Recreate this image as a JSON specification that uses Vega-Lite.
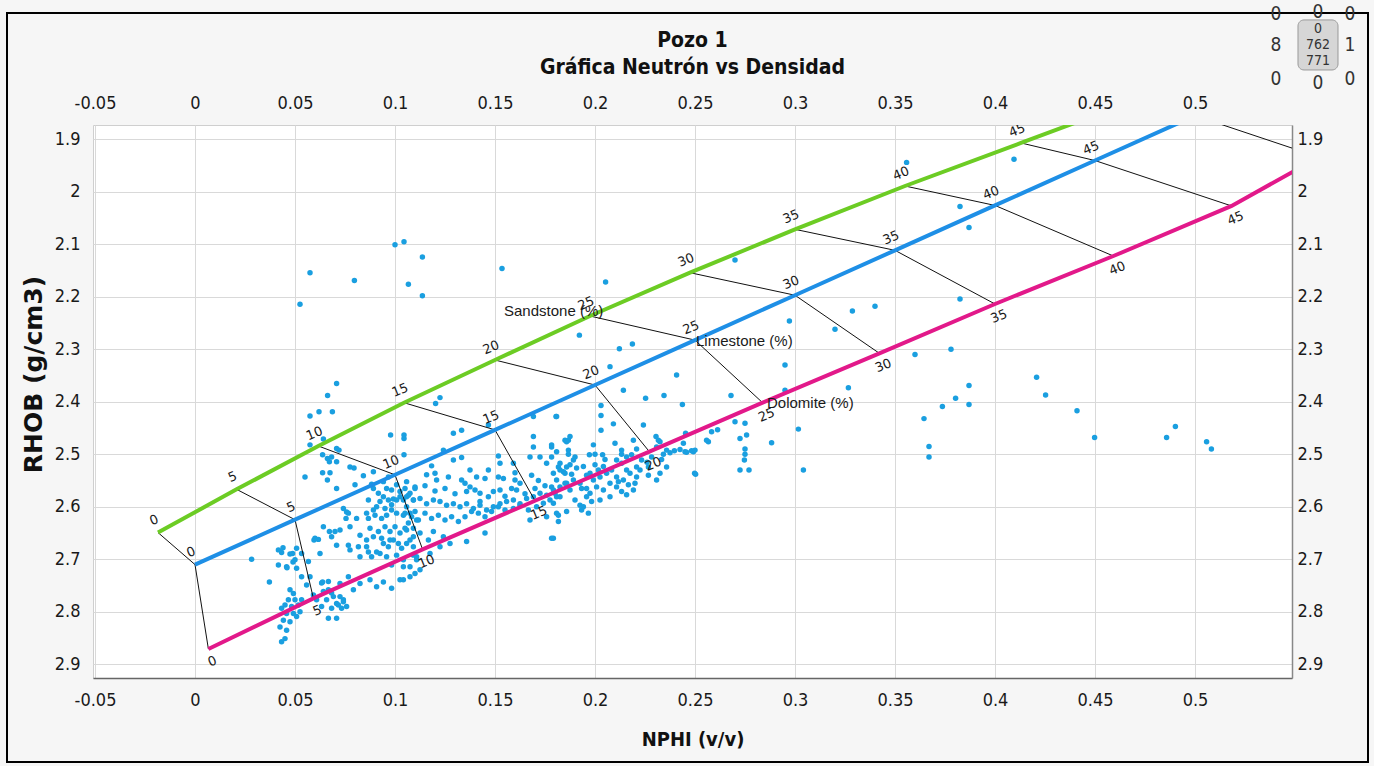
{
  "$schema": "https://vega.github.io/schema/vega-lite/v6.json",
  "width": 1199,
  "height": 553,
  "autosize": {"type": "none"},
  "padding": {"left": 93, "top": 125, "right": 82, "bottom": 88},
  "background": "#f6f6f6",
  "config": {
    "view": {"fill": "white", "stroke": "#cfcfcf", "strokeWidth": 1},
    "axis": {"labelFlush": false, "labelOverlap": false, "ticks": false}
  },
  "title": {
    "text": ["Pozo 1", "Gráfica Neutrón vs Densidad"],
    "anchor": "middle",
    "font": "Liberation Sans Narrow, DejaVu Sans Condensed, sans-serif",
    "fontSize": 21,
    "fontWeight": "bold",
    "color": "#111111",
    "lineHeight": 27,
    "offset": 0,
    "dy": 75
  },
  "datasets": {
    "frame": [{"NPHI": -0.094, "NPHI2": 0.5865, "RHOB": 1.6594, "RHOB2": 3.086}],
    "box": [{"NPHI": 0.5515, "NPHI2": 0.5715, "RHOB": 1.6727, "RHOB2": 1.768}],
    "widget": [
      {"NPHI": 0.5405, "RHOB": 1.6613, "label": "0"},
      {"NPHI": 0.5615, "RHOB": 1.6575, "label": "0"},
      {"NPHI": 0.5775, "RHOB": 1.6613, "label": "0"},
      {"NPHI": 0.5405, "RHOB": 1.7204, "label": "8"},
      {"NPHI": 0.5775, "RHOB": 1.7204, "label": "1"},
      {"NPHI": 0.5405, "RHOB": 1.7852, "label": "0"},
      {"NPHI": 0.5615, "RHOB": 1.7928, "label": "0"},
      {"NPHI": 0.5775, "RHOB": 1.7852, "label": "0"}
    ],
    "inner": [
      {"NPHI": 0.5615, "RHOB": 1.6899, "label": "0"},
      {"NPHI": 0.5615, "RHOB": 1.7204, "label": "762"},
      {"NPHI": 0.5615, "RHOB": 1.7509, "label": "771"}
    ],
    "names": [
      {"NPHI": 0.1545, "RHOB": 2.227, "name": "Sandstone (%)"},
      {"NPHI": 0.2505, "RHOB": 2.2836, "name": "Limestone (%)"},
      {"NPHI": 0.286, "RHOB": 2.4017, "name": "Dolomite (%)"}
    ],
    "lith": [
      {"lith": "Sandstone", "k": 0, "phi": 0, "NPHI": -0.0185, "RHOB": 2.649},
      {"lith": "Sandstone", "k": 0, "phi": 5, "NPHI": 0.0208, "RHOB": 2.5667},
      {"lith": "Sandstone", "k": 0, "phi": 10, "NPHI": 0.0617, "RHOB": 2.4842},
      {"lith": "Sandstone", "k": 0, "phi": 15, "NPHI": 0.1045, "RHOB": 2.4017},
      {"lith": "Sandstone", "k": 0, "phi": 20, "NPHI": 0.15, "RHOB": 2.3204},
      {"lith": "Sandstone", "k": 0, "phi": 25, "NPHI": 0.1975, "RHOB": 2.2366},
      {"lith": "Sandstone", "k": 0, "phi": 30, "NPHI": 0.2475, "RHOB": 2.1541},
      {"lith": "Sandstone", "k": 0, "phi": 35, "NPHI": 0.3, "RHOB": 2.0715},
      {"lith": "Sandstone", "k": 0, "phi": 40, "NPHI": 0.355, "RHOB": 1.989},
      {"lith": "Sandstone", "k": 0, "phi": 45, "NPHI": 0.413, "RHOB": 1.907},
      {"lith": "Sandstone", "k": 0, "phi": 50, "NPHI": 0.47, "RHOB": 1.826},
      {"lith": "Limestone", "k": 1, "phi": 0, "NPHI": 0, "RHOB": 2.71},
      {"lith": "Limestone", "k": 1, "phi": 5, "NPHI": 0.05, "RHOB": 2.6245},
      {"lith": "Limestone", "k": 1, "phi": 10, "NPHI": 0.1, "RHOB": 2.539},
      {"lith": "Limestone", "k": 1, "phi": 15, "NPHI": 0.15, "RHOB": 2.4535},
      {"lith": "Limestone", "k": 1, "phi": 20, "NPHI": 0.2, "RHOB": 2.368},
      {"lith": "Limestone", "k": 1, "phi": 25, "NPHI": 0.25, "RHOB": 2.2825},
      {"lith": "Limestone", "k": 1, "phi": 30, "NPHI": 0.3, "RHOB": 2.197},
      {"lith": "Limestone", "k": 1, "phi": 35, "NPHI": 0.35, "RHOB": 2.1115},
      {"lith": "Limestone", "k": 1, "phi": 40, "NPHI": 0.4, "RHOB": 2.026},
      {"lith": "Limestone", "k": 1, "phi": 45, "NPHI": 0.45, "RHOB": 1.9405},
      {"lith": "Limestone", "k": 1, "phi": 50, "NPHI": 0.5, "RHOB": 1.855},
      {"lith": "Dolomite", "k": 2, "phi": 0, "NPHI": 0.0067, "RHOB": 2.8709},
      {"lith": "Dolomite", "k": 2, "phi": 5, "NPHI": 0.0592, "RHOB": 2.7743},
      {"lith": "Dolomite", "k": 2, "phi": 10, "NPHI": 0.1138, "RHOB": 2.681},
      {"lith": "Dolomite", "k": 2, "phi": 15, "NPHI": 0.17, "RHOB": 2.5884},
      {"lith": "Dolomite", "k": 2, "phi": 20, "NPHI": 0.2272, "RHOB": 2.495},
      {"lith": "Dolomite", "k": 2, "phi": 25, "NPHI": 0.2838, "RHOB": 2.4017},
      {"lith": "Dolomite", "k": 2, "phi": 30, "NPHI": 0.3422, "RHOB": 2.3076},
      {"lith": "Dolomite", "k": 2, "phi": 35, "NPHI": 0.4, "RHOB": 2.2137},
      {"lith": "Dolomite", "k": 2, "phi": 40, "NPHI": 0.4592, "RHOB": 2.1223},
      {"lith": "Dolomite", "k": 2, "phi": 45, "NPHI": 0.5183, "RHOB": 2.027},
      {"lith": "Dolomite", "k": 2, "phi": 50, "NPHI": 0.562, "RHOB": 1.934}
    ],
    "pts": [
      {"NPHI":0.0525,"RHOB":2.214},{"NPHI":0.0575,"RHOB":2.154},{"NPHI":0.0797,"RHOB":2.169},{"NPHI":0.1,"RHOB":2.101},{"NPHI":0.1045,"RHOB":2.095},{"NPHI":0.1137,"RHOB":2.124},{"NPHI":0.1067,"RHOB":2.176},{"NPHI":0.1137,"RHOB":2.198},
      {"NPHI":0.1535,"RHOB":2.146},{"NPHI":0.2053,"RHOB":2.172},{"NPHI":0.27,"RHOB":2.13},{"NPHI":0.1922,"RHOB":2.273},{"NPHI":0.2122,"RHOB":2.299},{"NPHI":0.2187,"RHOB":2.29},{"NPHI":0.2075,"RHOB":2.333},
      {"NPHI":0.0708,"RHOB":2.365},{"NPHI":0.0663,"RHOB":2.388},{"NPHI":0.0575,"RHOB":2.427},{"NPHI":0.062,"RHOB":2.419},{"NPHI":0.0687,"RHOB":2.419},{"NPHI":0.1203,"RHOB":2.403},{"NPHI":0.1225,"RHOB":2.392},
      {"NPHI":0.0978,"RHOB":2.463},{"NPHI":0.1045,"RHOB":2.463},{"NPHI":0.1045,"RHOB":2.47},{"NPHI":0.1045,"RHOB":2.501},{"NPHI":0.0575,"RHOB":2.482},{"NPHI":0.0642,"RHOB":2.471},
      {"NPHI":0.2408,"RHOB":2.349},{"NPHI":0.2142,"RHOB":2.378},{"NPHI":0.2253,"RHOB":2.393},{"NPHI":0.2345,"RHOB":2.388},{"NPHI":0.2437,"RHOB":2.405},{"NPHI":0.268,"RHOB":2.388},{"NPHI":0.295,"RHOB":2.33},{"NPHI":0.2972,"RHOB":2.246},{"NPHI":0.32,"RHOB":2.262},{"NPHI":0.3287,"RHOB":2.227},{"NPHI":0.34,"RHOB":2.218},{"NPHI":0.3267,"RHOB":2.373},{"NPHI":0.295,"RHOB":2.378},{"NPHI":0.3017,"RHOB":2.452},{"NPHI":0.3042,"RHOB":2.53},{"NPHI":0.2883,"RHOB":2.478},{"NPHI":0.275,"RHOB":2.441},{"NPHI":0.27,"RHOB":2.438},{"NPHI":0.2725,"RHOB":2.53},{"NPHI":0.277,"RHOB":2.53},{"NPHI":0.2747,"RHOB":2.511},{"NPHI":0.2758,"RHOB":2.463},{"NPHI":0.2725,"RHOB":2.47},{"NPHI":0.2583,"RHOB":2.457},{"NPHI":0.2567,"RHOB":2.476},{"NPHI":0.2492,"RHOB":2.495},{"NPHI":0.2503,"RHOB":2.538},{"NPHI":0.2453,"RHOB":2.46},{"NPHI":0.245,"RHOB":2.495},{"NPHI":0.2397,"RHOB":2.493},{"NPHI":0.2358,"RHOB":2.492},{"NPHI":0.2317,"RHOB":2.473},{"NPHI":0.2308,"RHOB":2.486},{"NPHI":0.2242,"RHOB":2.444},{"NPHI":0.2092,"RHOB":2.442},{"NPHI":0.203,"RHOB":2.454},{"NPHI":0.203,"RHOB":2.426},{"NPHI":0.203,"RHOB":2.407},
      {"NPHI":0.2613,"RHOB":2.453},{"NPHI":0.275,"RHOB":2.49},{"NPHI":0.275,"RHOB":2.5},{"NPHI":0.2425,"RHOB":2.491},{"NPHI":0.2483,"RHOB":2.493},
      {"NPHI":0.3558,"RHOB":1.944},{"NPHI":0.4095,"RHOB":1.938},{"NPHI":0.3825,"RHOB":2.028},{"NPHI":0.387,"RHOB":2.068},{"NPHI":0.3825,"RHOB":2.204},{"NPHI":0.378,"RHOB":2.3},{"NPHI":0.36,"RHOB":2.31},{"NPHI":0.387,"RHOB":2.369},{"NPHI":0.3803,"RHOB":2.393},{"NPHI":0.387,"RHOB":2.405},{"NPHI":0.3737,"RHOB":2.409},{"NPHI":0.3645,"RHOB":2.432},{"NPHI":0.367,"RHOB":2.485},{"NPHI":0.367,"RHOB":2.505},{"NPHI":0.4208,"RHOB":2.353},{"NPHI":0.4253,"RHOB":2.387},{"NPHI":0.441,"RHOB":2.417},{"NPHI":0.4498,"RHOB":2.468},{"NPHI":0.4858,"RHOB":2.468},{"NPHI":0.4902,"RHOB":2.447},{"NPHI":0.5058,"RHOB":2.476},{"NPHI":0.5082,"RHOB":2.49},
      {"NPHI":0.1805,"RHOB":2.428},{"NPHI":0.1875,"RHOB":2.466},{"NPHI":0.185,"RHOB":2.473},{"NPHI":0.1783,"RHOB":2.486},{"NPHI":0.1992,"RHOB":2.482},{"NPHI":0.1972,"RHOB":2.501},{"NPHI":0.2038,"RHOB":2.501},{"NPHI":0.21,"RHOB":2.479},{"NPHI":0.2133,"RHOB":2.492},{"NPHI":0.2192,"RHOB":2.473},{"NPHI":0.2305,"RHOB":2.466},{"NPHI":0.2325,"RHOB":2.476},{"NPHI":0.2375,"RHOB":2.497},{"NPHI":0.2442,"RHOB":2.479},{"NPHI":0.2458,"RHOB":2.496},{"NPHI":0.25,"RHOB":2.492},{"NPHI":0.2498,"RHOB":2.536},{"NPHI":0.2558,"RHOB":2.473},{"NPHI":0.2308,"RHOB":2.549},{"NPHI":0.2325,"RHOB":2.536},{"NPHI":0.2267,"RHOB":2.524},{"NPHI":0.2358,"RHOB":2.524},
      {"NPHI":0.1792,"RHOB":2.536},{"NPHI":0.1817,"RHOB":2.524},{"NPHI":0.1842,"RHOB":2.533},{"NPHI":0.1808,"RHOB":2.549},{"NPHI":0.1783,"RHOB":2.562},{"NPHI":0.18,"RHOB":2.574},{"NPHI":0.1825,"RHOB":2.581},{"NPHI":0.1792,"RHOB":2.593},{"NPHI":0.1808,"RHOB":2.612},{"NPHI":0.1817,"RHOB":2.628},{"NPHI":0.1792,"RHOB":2.66},
      {"NPHI":0.1875,"RHOB":2.52},{"NPHI":0.1908,"RHOB":2.526},{"NPHI":0.1942,"RHOB":2.523},{"NPHI":0.1975,"RHOB":2.536},{"NPHI":0.1892,"RHOB":2.549},{"NPHI":0.1925,"RHOB":2.555},{"NPHI":0.1958,"RHOB":2.565},{"NPHI":0.1992,"RHOB":2.549},{"NPHI":0.2025,"RHOB":2.543},{"NPHI":0.2058,"RHOB":2.536},{"NPHI":0.2042,"RHOB":2.523},{"NPHI":0.2083,"RHOB":2.53},{"NPHI":0.2108,"RHOB":2.543},{"NPHI":0.2142,"RHOB":2.549},{"NPHI":0.2175,"RHOB":2.536},{"NPHI":0.2208,"RHOB":2.543},{"NPHI":0.2075,"RHOB":2.555},{"NPHI":0.2108,"RHOB":2.562},{"NPHI":0.2042,"RHOB":2.568},{"NPHI":0.2008,"RHOB":2.562},{"NPHI":0.1975,"RHOB":2.574},{"NPHI":0.19,"RHOB":2.587},{"NPHI":0.1925,"RHOB":2.597},{"NPHI":0.1958,"RHOB":2.581},{"NPHI":0.1875,"RHOB":2.568},{"NPHI":0.185,"RHOB":2.555},
      {"NPHI":0.2108,"RHOB":2.511},{"NPHI":0.2133,"RHOB":2.517},{"NPHI":0.2158,"RHOB":2.505},{"NPHI":0.2183,"RHOB":2.501},{"NPHI":0.2208,"RHOB":2.524},{"NPHI":0.2233,"RHOB":2.511},{"NPHI":0.2167,"RHOB":2.558},{"NPHI":0.2192,"RHOB":2.568},{"NPHI":0.2158,"RHOB":2.577},{"NPHI":0.2133,"RHOB":2.571},{"NPHI":0.2075,"RHOB":2.581},{"NPHI":0.2025,"RHOB":2.587},{"NPHI":0.1983,"RHOB":2.59},{"NPHI":0.1942,"RHOB":2.6},{"NPHI":0.1967,"RHOB":2.612},{"NPHI":0.1933,"RHOB":2.606},
      {"NPHI":0.2,"RHOB":2.52},{"NPHI":0.205,"RHOB":2.51},{"NPHI":0.2158,"RHOB":2.53},{"NPHI":0.2225,"RHOB":2.53},{"NPHI":0.226,"RHOB":2.515},{"NPHI":0.2283,"RHOB":2.505},{"NPHI":0.22,"RHOB":2.555},{"NPHI":0.2117,"RHOB":2.552},{"NPHI":0.1958,"RHOB":2.54},{"NPHI":0.2017,"RHOB":2.53},{"NPHI":0.1883,"RHOB":2.538},{"NPHI":0.1933,"RHOB":2.565},{"NPHI":0.2267,"RHOB":2.54},{"NPHI":0.2333,"RHOB":2.51},{"NPHI":0.2342,"RHOB":2.5},{"NPHI":0.2208,"RHOB":2.49},{"NPHI":0.2,"RHOB":2.5},{"NPHI":0.19,"RHOB":2.505},{"NPHI":0.1867,"RHOB":2.5},{"NPHI":0.2133,"RHOB":2.5},
      {"NPHI":0.1292,"RHOB":2.46},{"NPHI":0.1333,"RHOB":2.454},{"NPHI":0.1242,"RHOB":2.492},{"NPHI":0.1292,"RHOB":2.511},{"NPHI":0.1333,"RHOB":2.506},{"NPHI":0.1183,"RHOB":2.522},{"NPHI":0.1158,"RHOB":2.539},{"NPHI":0.12,"RHOB":2.536},{"NPHI":0.1208,"RHOB":2.549},{"NPHI":0.1375,"RHOB":2.53},{"NPHI":0.1408,"RHOB":2.543},{"NPHI":0.145,"RHOB":2.546},{"NPHI":0.1333,"RHOB":2.549},{"NPHI":0.1267,"RHOB":2.543},{"NPHI":0.1517,"RHOB":2.503},{"NPHI":0.1467,"RHOB":2.444},
      {"NPHI":0.1517,"RHOB":2.543},{"NPHI":0.1542,"RHOB":2.546},{"NPHI":0.16,"RHOB":2.549},{"NPHI":0.1625,"RHOB":2.555},{"NPHI":0.1608,"RHOB":2.568},{"NPHI":0.1583,"RHOB":2.565},{"NPHI":0.1525,"RHOB":2.568},{"NPHI":0.1492,"RHOB":2.571},{"NPHI":0.1467,"RHOB":2.581},{"NPHI":0.1425,"RHOB":2.574},{"NPHI":0.14,"RHOB":2.568},{"NPHI":0.1375,"RHOB":2.562},{"NPHI":0.1358,"RHOB":2.571},
      {"NPHI":0.1058,"RHOB":2.581},{"NPHI":0.1092,"RHOB":2.587},{"NPHI":0.1125,"RHOB":2.584},{"NPHI":0.1158,"RHOB":2.594},{"NPHI":0.1192,"RHOB":2.587},{"NPHI":0.1225,"RHOB":2.59},{"NPHI":0.1258,"RHOB":2.597},{"NPHI":0.1292,"RHOB":2.594},{"NPHI":0.1325,"RHOB":2.6},{"NPHI":0.1358,"RHOB":2.594},{"NPHI":0.1392,"RHOB":2.603},{"NPHI":0.1425,"RHOB":2.597},{"NPHI":0.1458,"RHOB":2.606},{"NPHI":0.1492,"RHOB":2.6},{"NPHI":0.1525,"RHOB":2.594},{"NPHI":0.1558,"RHOB":2.59},{"NPHI":0.1592,"RHOB":2.587},{"NPHI":0.1625,"RHOB":2.594},{"NPHI":0.1658,"RHOB":2.584},{"NPHI":0.1692,"RHOB":2.581},{"NPHI":0.1725,"RHOB":2.574},{"NPHI":0.1758,"RHOB":2.578},{"NPHI":0.1792,"RHOB":2.568},{"NPHI":0.1825,"RHOB":2.562},{"NPHI":0.1858,"RHOB":2.555},
      {"NPHI":0.105,"RHOB":2.612},{"NPHI":0.1083,"RHOB":2.619},{"NPHI":0.1117,"RHOB":2.625},{"NPHI":0.115,"RHOB":2.612},{"NPHI":0.1183,"RHOB":2.622},{"NPHI":0.1217,"RHOB":2.616},{"NPHI":0.125,"RHOB":2.625},{"NPHI":0.1283,"RHOB":2.619},{"NPHI":0.1317,"RHOB":2.628},{"NPHI":0.135,"RHOB":2.619},{"NPHI":0.1383,"RHOB":2.609},{"NPHI":0.1417,"RHOB":2.612},{"NPHI":0.145,"RHOB":2.619},{"NPHI":0.1483,"RHOB":2.609},{"NPHI":0.1517,"RHOB":2.6},{"NPHI":0.155,"RHOB":2.606},{"NPHI":0.1592,"RHOB":2.603},{"NPHI":0.1625,"RHOB":2.597},{"NPHI":0.1667,"RHOB":2.606},{"NPHI":0.1708,"RHOB":2.6},{"NPHI":0.1742,"RHOB":2.593},{"NPHI":0.1775,"RHOB":2.587},{"NPHI":0.1808,"RHOB":2.581},
      {"NPHI":0.1058,"RHOB":2.644},{"NPHI":0.1092,"RHOB":2.657},{"NPHI":0.1125,"RHOB":2.65},{"NPHI":0.1167,"RHOB":2.663},{"NPHI":0.1192,"RHOB":2.647},{"NPHI":0.1242,"RHOB":2.657},{"NPHI":0.1275,"RHOB":2.67},{"NPHI":0.1358,"RHOB":2.666},{"NPHI":0.145,"RHOB":2.65},{"NPHI":0.1225,"RHOB":2.676},{"NPHI":0.1175,"RHOB":2.689},{"NPHI":0.1108,"RHOB":2.701},{"NPHI":0.1075,"RHOB":2.714},{"NPHI":0.11,"RHOB":2.727},{"NPHI":0.1042,"RHOB":2.739},{"NPHI":0.1675,"RHOB":2.625},{"NPHI":0.1758,"RHOB":2.619},{"NPHI":0.1783,"RHOB":2.66},{"NPHI":0.1817,"RHOB":2.616},{"NPHI":0.1858,"RHOB":2.609},
      {"NPHI":0.1692,"RHOB":2.428},{"NPHI":0.1692,"RHOB":2.466},{"NPHI":0.1675,"RHOB":2.505},{"NPHI":0.1725,"RHOB":2.505},{"NPHI":0.1758,"RHOB":2.517},{"NPHI":0.1783,"RHOB":2.505},{"NPHI":0.1808,"RHOB":2.495},{"NPHI":0.1783,"RHOB":2.482},{"NPHI":0.1825,"RHOB":2.53},{"NPHI":0.1867,"RHOB":2.473},{"NPHI":0.1858,"RHOB":2.524},{"NPHI":0.1808,"RHOB":2.428},
      {"NPHI":0.1525,"RHOB":2.517},{"NPHI":0.1592,"RHOB":2.517},{"NPHI":0.1467,"RHOB":2.53},{"NPHI":0.1692,"RHOB":2.486},{"NPHI":0.1858,"RHOB":2.476},{"NPHI":0.1867,"RHOB":2.492},{"NPHI":0.1892,"RHOB":2.511},{"NPHI":0.1825,"RHOB":2.517},{"NPHI":0.185,"RHOB":2.536},
      {"NPHI":0.125,"RHOB":2.565},{"NPHI":0.13,"RHOB":2.575},{"NPHI":0.135,"RHOB":2.555},{"NPHI":0.12,"RHOB":2.57},{"NPHI":0.115,"RHOB":2.56},{"NPHI":0.11,"RHOB":2.565},{"NPHI":0.1425,"RHOB":2.59},{"NPHI":0.155,"RHOB":2.58},{"NPHI":0.165,"RHOB":2.575},{"NPHI":0.17,"RHOB":2.565},{"NPHI":0.16,"RHOB":2.535},{"NPHI":0.1683,"RHOB":2.54},{"NPHI":0.1717,"RHOB":2.55},{"NPHI":0.175,"RHOB":2.56},
      {"NPHI":0.0638,"RHOB":2.501},{"NPHI":0.0662,"RHOB":2.508},{"NPHI":0.0683,"RHOB":2.505},{"NPHI":0.0708,"RHOB":2.514},{"NPHI":0.0672,"RHOB":2.514},{"NPHI":0.0708,"RHOB":2.489},{"NPHI":0.072,"RHOB":2.492},{"NPHI":0.0775,"RHOB":2.524},{"NPHI":0.0795,"RHOB":2.526},{"NPHI":0.055,"RHOB":2.543},{"NPHI":0.0638,"RHOB":2.535},{"NPHI":0.0675,"RHOB":2.535},{"NPHI":0.0662,"RHOB":2.549},{"NPHI":0.0708,"RHOB":2.565},{"NPHI":0.0842,"RHOB":2.541},{"NPHI":0.0892,"RHOB":2.533},{"NPHI":0.0883,"RHOB":2.557},{"NPHI":0.08,"RHOB":2.558},{"NPHI":0.0942,"RHOB":2.552},{"NPHI":0.0967,"RHOB":2.543},{"NPHI":0.0958,"RHOB":2.565},{"NPHI":0.0742,"RHOB":2.603},{"NPHI":0.0767,"RHOB":2.612},{"NPHI":0.0755,"RHOB":2.622},{"NPHI":0.0867,"RHOB":2.587},{"NPHI":0.0858,"RHOB":2.612},
      {"NPHI":0.0908,"RHOB":2.6},{"NPHI":0.0925,"RHOB":2.59},{"NPHI":0.095,"RHOB":2.603},{"NPHI":0.0967,"RHOB":2.587},{"NPHI":0.0983,"RHOB":2.596},{"NPHI":0.1008,"RHOB":2.587},{"NPHI":0.1025,"RHOB":2.581},{"NPHI":0.1042,"RHOB":2.587},{"NPHI":0.1067,"RHOB":2.578},{"NPHI":0.1092,"RHOB":2.587},{"NPHI":0.1008,"RHOB":2.612},{"NPHI":0.0983,"RHOB":2.606},{"NPHI":0.0958,"RHOB":2.616},{"NPHI":0.09,"RHOB":2.616},{"NPHI":0.0933,"RHOB":2.622},
      {"NPHI":0.1058,"RHOB":2.6},{"NPHI":0.1075,"RHOB":2.612},{"NPHI":0.1042,"RHOB":2.616},{"NPHI":0.11,"RHOB":2.609},{"NPHI":0.1108,"RHOB":2.625},
      {"NPHI":0.0642,"RHOB":2.638},{"NPHI":0.0595,"RHOB":2.663},{"NPHI":0.0617,"RHOB":2.662},{"NPHI":0.0672,"RHOB":2.647},{"NPHI":0.07,"RHOB":2.647},{"NPHI":0.0708,"RHOB":2.673},{"NPHI":0.0767,"RHOB":2.673},{"NPHI":0.0775,"RHOB":2.682},{"NPHI":0.0625,"RHOB":2.689},{"NPHI":0.0817,"RHOB":2.676},{"NPHI":0.0825,"RHOB":2.695},{"NPHI":0.0858,"RHOB":2.676},{"NPHI":0.0867,"RHOB":2.686},{"NPHI":0.0883,"RHOB":2.695},{"NPHI":0.0908,"RHOB":2.686},{"NPHI":0.0925,"RHOB":2.689},{"NPHI":0.0942,"RHOB":2.67},{"NPHI":0.0967,"RHOB":2.676},{"NPHI":0.0958,"RHOB":2.695},{"NPHI":0.0992,"RHOB":2.663},{"NPHI":0.1017,"RHOB":2.67},{"NPHI":0.1033,"RHOB":2.679},{"NPHI":0.1058,"RHOB":2.67},{"NPHI":0.1075,"RHOB":2.663},{"NPHI":0.1092,"RHOB":2.676},{"NPHI":0.1008,"RHOB":2.692},{"NPHI":0.1042,"RHOB":2.701},{"NPHI":0.0983,"RHOB":2.711},{"NPHI":0.1092,"RHOB":2.692},
      {"NPHI":0.0283,"RHOB":2.7},{"NPHI":0.0372,"RHOB":2.743},{"NPHI":0.0417,"RHOB":2.711},{"NPHI":0.0433,"RHOB":2.687},{"NPHI":0.0475,"RHOB":2.69},{"NPHI":0.0458,"RHOB":2.714},{"NPHI":0.05,"RHOB":2.701},{"NPHI":0.0508,"RHOB":2.717},{"NPHI":0.0567,"RHOB":2.704},{"NPHI":0.0575,"RHOB":2.733},{"NPHI":0.0533,"RHOB":2.733},
      {"NPHI":0.0475,"RHOB":2.758},{"NPHI":0.0492,"RHOB":2.765},{"NPHI":0.0467,"RHOB":2.777},{"NPHI":0.05,"RHOB":2.777},{"NPHI":0.045,"RHOB":2.787},{"NPHI":0.0483,"RHOB":2.79},{"NPHI":0.0517,"RHOB":2.787},{"NPHI":0.0433,"RHOB":2.793},{"NPHI":0.0458,"RHOB":2.803},{"NPHI":0.0492,"RHOB":2.803},{"NPHI":0.0525,"RHOB":2.8},{"NPHI":0.0442,"RHOB":2.816},{"NPHI":0.0475,"RHOB":2.819},{"NPHI":0.0425,"RHOB":2.829},{"NPHI":0.0458,"RHOB":2.835},{"NPHI":0.045,"RHOB":2.851},{"NPHI":0.0433,"RHOB":2.857},{"NPHI":0.0533,"RHOB":2.777},{"NPHI":0.0508,"RHOB":2.809},{"NPHI":0.0558,"RHOB":2.749},{"NPHI":0.0592,"RHOB":2.768},{"NPHI":0.0608,"RHOB":2.777},{"NPHI":0.0633,"RHOB":2.745},{"NPHI":0.0642,"RHOB":2.761},{"NPHI":0.0667,"RHOB":2.742},{"NPHI":0.0683,"RHOB":2.764},{"NPHI":0.0658,"RHOB":2.777},{"NPHI":0.0633,"RHOB":2.79},{"NPHI":0.0683,"RHOB":2.793},{"NPHI":0.0667,"RHOB":2.812},{"NPHI":0.0708,"RHOB":2.812},{"NPHI":0.0725,"RHOB":2.771},{"NPHI":0.0742,"RHOB":2.777},{"NPHI":0.0758,"RHOB":2.79},{"NPHI":0.0733,"RHOB":2.793},{"NPHI":0.0708,"RHOB":2.784},
      {"NPHI":0.0892,"RHOB":2.565},{"NPHI":0.0917,"RHOB":2.574},{"NPHI":0.0942,"RHOB":2.581},{"NPHI":0.0983,"RHOB":2.568},{"NPHI":0.1008,"RHOB":2.558},{"NPHI":0.1025,"RHOB":2.571},{"NPHI":0.105,"RHOB":2.565},{"NPHI":0.1075,"RHOB":2.574},{"NPHI":0.11,"RHOB":2.562},{"NPHI":0.1058,"RHOB":2.552},{"NPHI":0.0992,"RHOB":2.585},{"NPHI":0.095,"RHOB":2.638},{"NPHI":0.0975,"RHOB":2.647},{"NPHI":0.1,"RHOB":2.638},{"NPHI":0.1025,"RHOB":2.65},{"NPHI":0.105,"RHOB":2.641},{"NPHI":0.1067,"RHOB":2.631},{"NPHI":0.1092,"RHOB":2.641},{"NPHI":0.0917,"RHOB":2.647},{"NPHI":0.0892,"RHOB":2.657},{"NPHI":0.0933,"RHOB":2.66},{"NPHI":0.0975,"RHOB":2.663},
      {"NPHI":0.0417,"RHOB":2.682},{"NPHI":0.044,"RHOB":2.678},{"NPHI":0.046,"RHOB":2.716},{"NPHI":0.049,"RHOB":2.705},{"NPHI":0.0488,"RHOB":2.689},{"NPHI":0.0533,"RHOB":2.689},{"NPHI":0.0508,"RHOB":2.679},
      {"NPHI":0.06,"RHOB":2.66},{"NPHI":0.0683,"RHOB":2.657},{"NPHI":0.0725,"RHOB":2.644},{"NPHI":0.0758,"RHOB":2.61},{"NPHI":0.0808,"RHOB":2.622},{"NPHI":0.0775,"RHOB":2.638},{"NPHI":0.0825,"RHOB":2.654},{"NPHI":0.0858,"RHOB":2.663},{"NPHI":0.0875,"RHOB":2.641},{"NPHI":0.0867,"RHOB":2.622},{"NPHI":0.0892,"RHOB":2.606},
      {"NPHI":0.0638,"RHOB":2.743},{"NPHI":0.0667,"RHOB":2.758},{"NPHI":0.0692,"RHOB":2.771},{"NPHI":0.0717,"RHOB":2.787},{"NPHI":0.0742,"RHOB":2.781},{"NPHI":0.0725,"RHOB":2.746},{"NPHI":0.0767,"RHOB":2.733},{"NPHI":0.0792,"RHOB":2.758},{"NPHI":0.0825,"RHOB":2.746},{"NPHI":0.0875,"RHOB":2.739},{"NPHI":0.0908,"RHOB":2.752},{"NPHI":0.0942,"RHOB":2.743},{"NPHI":0.0983,"RHOB":2.755},{"NPHI":0.1025,"RHOB":2.739},{"NPHI":0.1075,"RHOB":2.733},{"NPHI":0.1042,"RHOB":2.714},{"NPHI":0.1125,"RHOB":2.72},{"NPHI":0.1108,"RHOB":2.695}
    ]
  },
  "layer": [
    {
      "data": {"name": "frame"},
      "mark": {"type": "rect", "filled": false, "stroke": "#000000", "strokeWidth": 2, "clip": false},
      "encoding": {
        "x": {"field": "NPHI", "type": "quantitative", "scale": {"domain": [-0.051, 0.5485], "nice": false, "zero": false}, "axis": null},
        "x2": {"field": "NPHI2"},
        "y": {"field": "RHOB", "type": "quantitative", "scale": {"domain": [1.8728, 2.926], "nice": false, "zero": false, "reverse": true}, "axis": null},
        "y2": {"field": "RHOB2"}
      }
    },
    {
      "data": {"name": "pts"},
      "mark": {"type": "circle", "size": 30, "color": "#1a9fe0", "opacity": 1, "clip": true},
      "encoding": {
        "x": {"field": "NPHI", "type": "quantitative", "scale": {"domain": [-0.051, 0.5485], "nice": false, "zero": false},
          "axis": {"orient": "bottom", "values": [-0.05, 0, 0.05, 0.1, 0.15, 0.2, 0.25, 0.3, 0.35, 0.4, 0.45, 0.5],
            "labelExpr": "datum.value < 0 ? '-' + format(-datum.value, '~g') : format(datum.value, '~g')",
            "grid": true, "gridColor": "#d9d9d9", "gridWidth": 1, "domain": true, "domainColor": "#666666", "domainWidth": 1.5,
            "labelFont": "DejaVu Sans Condensed, DejaVu Sans", "labelFontSize": 18, "labelColor": "#1a1a1a", "labelPadding": 13,
            "title": "NPHI (v/v)", "titleFont": "Liberation Sans Narrow, DejaVu Sans Condensed, sans-serif", "titleFontSize": 20, "titleFontWeight": "bold", "titleColor": "#111111", "titlePadding": 20}},
        "y": {"field": "RHOB", "type": "quantitative", "scale": {"domain": [1.8728, 2.926], "nice": false, "zero": false, "reverse": true},
          "axis": {"orient": "left", "values": [1.9, 2, 2.1, 2.2, 2.3, 2.4, 2.5, 2.6, 2.7, 2.8, 2.9],
            "labelExpr": "format(datum.value, '~g')",
            "grid": true, "gridColor": "#d9d9d9", "gridWidth": 1, "domain": false,
            "labelFont": "DejaVu Sans Condensed, DejaVu Sans", "labelFontSize": 18, "labelColor": "#1a1a1a", "labelPadding": 13,
            "title": "RHOB (g/cm3)", "titleFont": "DejaVu Sans", "titleFontSize": 25, "titleFontWeight": "bold", "titleColor": "#111111",
            "titleX": -60, "titleY": 249, "titleBaseline": "middle", "titleAlign": "center"}}
      }
    },
    {
      "data": {"name": "lith"},
      "mark": {"type": "line", "color": "#111111", "strokeWidth": 1, "clip": true},
      "encoding": {
        "x": {"field": "NPHI", "type": "quantitative", "scale": {"domain": [-0.051, 0.5485], "nice": false, "zero": false}, "axis": null},
        "y": {"field": "RHOB", "type": "quantitative", "scale": {"domain": [1.8728, 2.926], "nice": false, "zero": false, "reverse": true}, "axis": null},
        "detail": {"field": "phi", "type": "nominal"},
        "order": {"field": "k", "type": "quantitative"}
      }
    },
    {
      "data": {"name": "lith"},
      "mark": {"type": "line", "strokeWidth": 4, "clip": true},
      "encoding": {
        "x": {"field": "NPHI", "type": "quantitative", "scale": {"domain": [-0.051, 0.5485], "nice": false, "zero": false},
          "axis": {"orient": "top", "values": [-0.05, 0, 0.05, 0.1, 0.15, 0.2, 0.25, 0.3, 0.35, 0.4, 0.45, 0.5],
            "labelExpr": "datum.value < 0 ? '-' + format(-datum.value, '~g') : format(datum.value, '~g')",
            "grid": false, "domain": false, "labelFont": "DejaVu Sans Condensed, DejaVu Sans", "labelFontSize": 18, "labelColor": "#1a1a1a", "labelPadding": 13, "title": null}},
        "y": {"field": "RHOB", "type": "quantitative", "scale": {"domain": [1.8728, 2.926], "nice": false, "zero": false, "reverse": true},
          "axis": {"orient": "right", "values": [1.9, 2, 2.1, 2.2, 2.3, 2.4, 2.5, 2.6, 2.7, 2.8, 2.9],
            "labelExpr": "format(datum.value, '~g')",
            "grid": false, "domain": true, "domainColor": "#888888", "domainWidth": 1.5,
            "labelFont": "DejaVu Sans Condensed, DejaVu Sans", "labelFontSize": 18, "labelColor": "#1a1a1a", "labelPadding": 5, "title": null}},
        "color": {"field": "lith", "type": "nominal", "scale": {"domain": ["Sandstone", "Limestone", "Dolomite"], "range": ["#6ccc24", "#1e8fe6", "#e2198a"]}, "legend": null},
        "order": {"field": "phi", "type": "quantitative"}
      }
    },
    {
      "data": {"name": "lith"},
      "transform": [{"filter": "datum.k < 2 && datum.phi <= 45"}],
      "mark": {"type": "text", "angle": -22, "dx": 1, "dy": -13, "align": "center", "baseline": "middle", "font": "DejaVu Sans", "fontSize": 13, "color": "#1a1a1a", "clip": true},
      "encoding": {
        "x": {"field": "NPHI", "type": "quantitative", "scale": {"domain": [-0.051, 0.5485], "nice": false, "zero": false}, "axis": null},
        "y": {"field": "RHOB", "type": "quantitative", "scale": {"domain": [1.8728, 2.926], "nice": false, "zero": false, "reverse": true}, "axis": null},
        "text": {"field": "phi", "type": "quantitative"}
      }
    },
    {
      "data": {"name": "lith"},
      "transform": [{"filter": "datum.k == 2 && datum.phi <= 45"}],
      "mark": {"type": "text", "angle": -22, "dx": -1, "dy": 13, "align": "center", "baseline": "middle", "font": "DejaVu Sans", "fontSize": 13, "color": "#1a1a1a", "clip": true},
      "encoding": {
        "x": {"field": "NPHI", "type": "quantitative", "scale": {"domain": [-0.051, 0.5485], "nice": false, "zero": false}, "axis": null},
        "y": {"field": "RHOB", "type": "quantitative", "scale": {"domain": [1.8728, 2.926], "nice": false, "zero": false, "reverse": true}, "axis": null},
        "text": {"field": "phi", "type": "quantitative"}
      }
    },
    {
      "data": {"name": "names"},
      "mark": {"type": "text", "align": "left", "baseline": "middle", "font": "Liberation Sans, Arial, sans-serif", "fontSize": 15, "color": "#1a1a1a"},
      "encoding": {
        "x": {"field": "NPHI", "type": "quantitative", "scale": {"domain": [-0.051, 0.5485], "nice": false, "zero": false}, "axis": null},
        "y": {"field": "RHOB", "type": "quantitative", "scale": {"domain": [1.8728, 2.926], "nice": false, "zero": false, "reverse": true}, "axis": null},
        "text": {"field": "name", "type": "nominal"}
      }
    },
    {
      "data": {"name": "box"},
      "mark": {"type": "rect", "fill": "#d6d6d6", "stroke": "#999999", "strokeWidth": 1, "cornerRadius": 6, "clip": false},
      "encoding": {
        "x": {"field": "NPHI", "type": "quantitative", "scale": {"domain": [-0.051, 0.5485], "nice": false, "zero": false}, "axis": null},
        "x2": {"field": "NPHI2"},
        "y": {"field": "RHOB", "type": "quantitative", "scale": {"domain": [1.8728, 2.926], "nice": false, "zero": false, "reverse": true}, "axis": null},
        "y2": {"field": "RHOB2"}
      }
    },
    {
      "data": {"name": "widget"},
      "mark": {"type": "text", "align": "center", "baseline": "middle", "font": "DejaVu Sans Condensed, DejaVu Sans", "fontSize": 19, "color": "#333333", "clip": false},
      "encoding": {
        "x": {"field": "NPHI", "type": "quantitative", "scale": {"domain": [-0.051, 0.5485], "nice": false, "zero": false}, "axis": null},
        "y": {"field": "RHOB", "type": "quantitative", "scale": {"domain": [1.8728, 2.926], "nice": false, "zero": false, "reverse": true}, "axis": null},
        "text": {"field": "label", "type": "nominal"}
      }
    },
    {
      "data": {"name": "inner"},
      "mark": {"type": "text", "align": "center", "baseline": "middle", "font": "DejaVu Sans Condensed, DejaVu Sans", "fontSize": 14, "color": "#333333", "clip": false},
      "encoding": {
        "x": {"field": "NPHI", "type": "quantitative", "scale": {"domain": [-0.051, 0.5485], "nice": false, "zero": false}, "axis": null},
        "y": {"field": "RHOB", "type": "quantitative", "scale": {"domain": [1.8728, 2.926], "nice": false, "zero": false, "reverse": true}, "axis": null},
        "text": {"field": "label", "type": "nominal"}
      }
    }
  ]
}
